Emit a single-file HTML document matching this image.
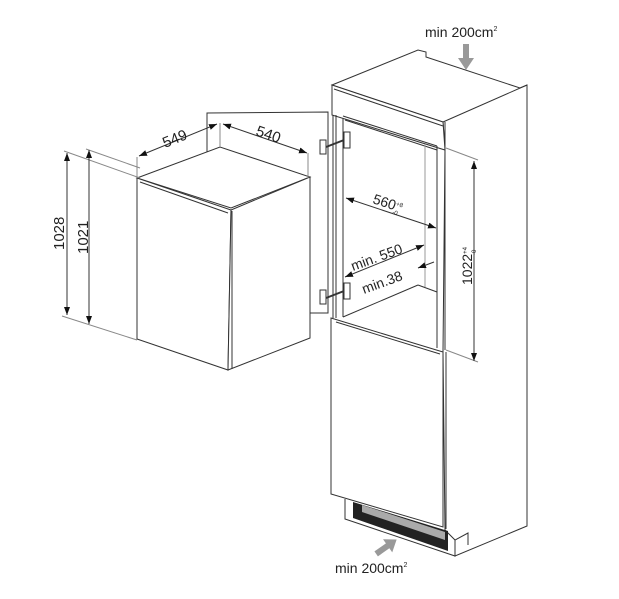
<!DOCTYPE html>
<html><head><meta charset="utf-8"><style>
html,body{margin:0;padding:0;background:#fff;}
svg{display:block;}
text{font-family:"Liberation Sans",sans-serif;fill:#222;}
</style></head><body>
<svg width="619" height="599" viewBox="0 0 619 599" xmlns="http://www.w3.org/2000/svg">
<defs>
<marker id="a" markerWidth="8" markerHeight="6" refX="8" refY="3" orient="auto-start-reverse" markerUnits="userSpaceOnUse"><path d="M0,0 L8,3 L0,6 z" fill="#111"/></marker>
</defs>
<g fill="none" stroke="#333" stroke-width="1">
<polyline points="207,153 207,113 328,112 328,313 310,313"/>
<line x1="310" y1="178" x2="310" y2="338"/>
<polygon points="137,178 220,147 310,177 231,208" fill="#fff"/>
<polygon points="137,178 231,210 228,370 137,339" fill="#fff"/>
<polygon points="231,210 310,177 310,338 228,370" fill="#fff"/>
<line x1="140" y1="182" x2="228" y2="213"/>
<line x1="232" y1="211" x2="232" y2="369"/>
<line x1="137" y1="157" x2="137" y2="178" stroke="#888"/>
<line x1="308" y1="153" x2="308" y2="178" stroke="#888"/>
<line x1="220" y1="123" x2="220" y2="147" stroke="#888"/>
<line x1="139" y1="156" x2="217" y2="124" marker-start="url(#a)" marker-end="url(#a)"/>
<line x1="223" y1="124" x2="307" y2="153" marker-start="url(#a)" marker-end="url(#a)"/>
<line x1="64" y1="151" x2="140" y2="178" stroke="#888"/>
<line x1="86" y1="149" x2="140" y2="168" stroke="#888"/>
<line x1="62" y1="316" x2="137" y2="340" stroke="#888"/>
<line x1="67" y1="153" x2="67" y2="315" marker-start="url(#a)" marker-end="url(#a)"/>
<line x1="89" y1="150" x2="89" y2="324" marker-start="url(#a)" marker-end="url(#a)"/>
<polygon points="332,85 418,50 426,52 426,57 520,88 527,85 527,526 455,556 455,540 445,530 443,352 445,147 443,122" fill="#fff"/>
<polygon points="332,85 443,122 445,150 332,115" fill="#fff"/>
<line x1="334" y1="89" x2="443" y2="126"/>
<line x1="443" y1="122" x2="527" y2="85"/>
<line x1="445" y1="122" x2="445" y2="150"/>
<line x1="333" y1="115" x2="333" y2="318"/>
<line x1="336" y1="115" x2="336" y2="318"/>
<line x1="343" y1="118" x2="343" y2="317"/>
<line x1="343" y1="116" x2="437" y2="146"/>
<line x1="345" y1="120" x2="437" y2="150"/>
<line x1="437" y1="146" x2="437" y2="348"/>
<line x1="445" y1="150" x2="445" y2="350"/>
<line x1="425" y1="144" x2="425" y2="287" stroke="#999"/>
<line x1="343" y1="317" x2="418" y2="285"/>
<line x1="418" y1="285" x2="437" y2="292"/>
<polygon points="331,318 443,352 443,527 331,494" fill="#fff"/>
<line x1="336" y1="322" x2="440" y2="354"/>
<line x1="446" y1="352" x2="446" y2="529"/>
<polyline points="345,499 345,519 455,556 455,540 468,533 468,545"/>
<polygon points="353,502 448,531 448,551 353,518" fill="#222" stroke="none"/>
<polygon points="362,505 445,532 445,540 362,512" fill="#aaa" stroke="none"/>
<rect x="320" y="140" width="6" height="14" fill="#fff"/>
<rect x="344" y="132" width="6" height="16" fill="#fff"/>
<line x1="326" y1="147" x2="344" y2="140" stroke-width="2"/>
<rect x="320" y="290" width="6" height="14" fill="#fff"/>
<rect x="344" y="283" width="6" height="16" fill="#fff"/>
<line x1="326" y1="298" x2="344" y2="291" stroke-width="2"/>
<line x1="346" y1="198" x2="436" y2="228" marker-start="url(#a)" marker-end="url(#a)"/>
<line x1="345" y1="277" x2="424" y2="245" marker-start="url(#a)" marker-end="url(#a)"/>
<line x1="418" y1="268" x2="434" y2="262" marker-start="url(#a)"/>
<line x1="446" y1="148" x2="478" y2="160" stroke="#888"/>
<line x1="446" y1="350" x2="478" y2="362" stroke="#888"/>
<line x1="474" y1="161" x2="474" y2="361" marker-start="url(#a)" marker-end="url(#a)"/>
</g>
<polygon points="463,44 469,44 469,58 474,58 466,70 458,58 463,58" fill="#999"/>
<g transform="translate(386,547) rotate(-35)">
<polygon points="-12,-3 2,-3 2,-8 13,0 2,8 2,3 -12,3" fill="#999"/>
</g>
<text x="425" y="37" font-size="14">min 200cm<tspan font-size="7" dy="-6">2</tspan></text>
<text x="335" y="573" font-size="14">min 200cm<tspan font-size="7" dy="-6">2</tspan></text>
<text font-size="15" transform="translate(165,148) rotate(-22)">549</text>
<text font-size="15" transform="translate(255,135) rotate(19)">540</text>
<text font-size="15" transform="translate(64,250) rotate(-90)">1028</text>
<text font-size="15" transform="translate(88,254) rotate(-90)">1021</text>
<text font-size="14" transform="translate(372,203) rotate(18)">560<tspan font-size="6" dy="-5">+8</tspan><tspan font-size="6" dx="-8" dy="9">-0</tspan></text>
<text font-size="14" transform="translate(353,271) rotate(-20)">min. 550</text>
<text font-size="14" transform="translate(364,294) rotate(-20)">min.38</text>
<text font-size="14" transform="translate(472,285) rotate(-90)">1022<tspan font-size="6" dy="-5">+4</tspan><tspan font-size="6" dx="-8" dy="9">-0</tspan></text>
</svg>
</body></html>
